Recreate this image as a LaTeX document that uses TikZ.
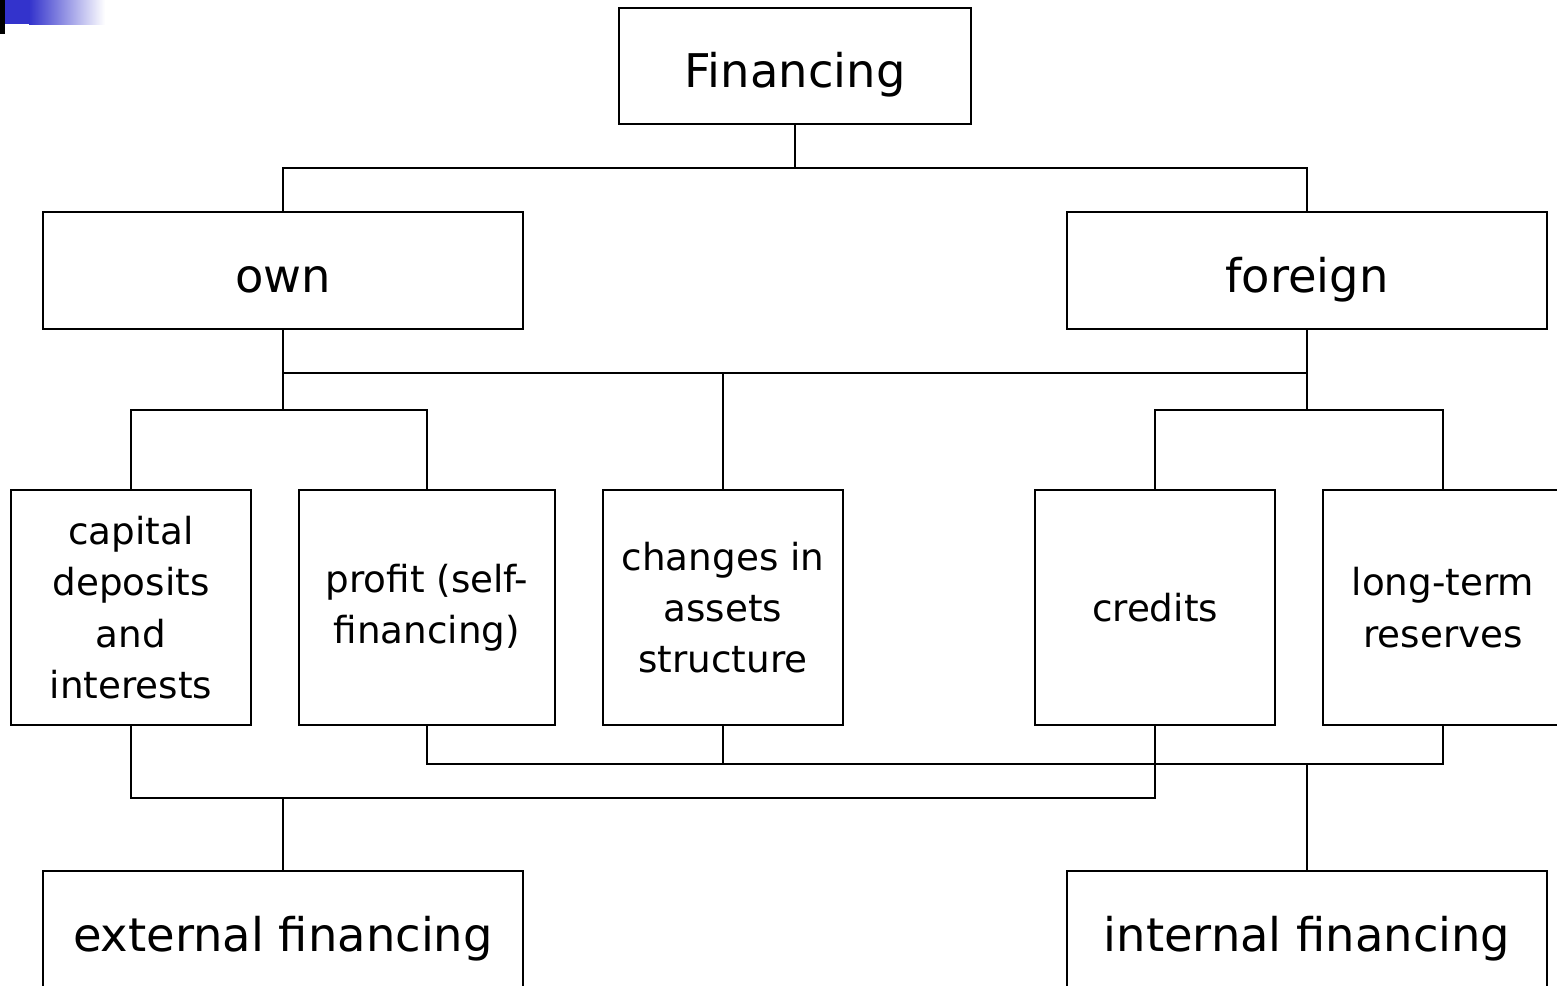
\documentclass[tikz,border=0pt]{standalone}
\usepackage{fontspec}
\setmainfont{DejaVu Sans}
\usepackage{tikz}
\usetikzlibrary{positioning}
\definecolor{slideblue}{RGB}{51,51,204}

\begin{document}
\begin{tikzpicture}[
    x=0.01cm, y=-0.01cm,
    line width=0.6pt,
    bigbox/.style={rectangle, draw, minimum width=4.8cm, minimum height=1.17cm, inner sep=0pt, text height=14pt, text depth=1.5pt, font=\fontsize{13.2}{16}\selectfont},
    smallbox/.style={rectangle, draw, minimum width=2.4cm, minimum height=2.35cm, inner sep=0pt, align=center, font=\fontsize{10.6}{14.6}\selectfont},
    link/.style={draw, line width=0.6pt}
]
\useasboundingbox (0,0) rectangle (1557,986);
\clip (0,0) rectangle (1557,986);

% Slide corner mark
\fill[black] (0,0) rectangle (5,34);
\fill[slideblue] (5,0) rectangle (29,24);
\shade[left color=slideblue, right color=white] (29,0) rectangle (105,25);

% Top node
\node[bigbox, minimum width=3.51cm, minimum height=1.16cm] (fin) at (795,66) {Financing};

% Sources
\node[bigbox] (own) at (283,270.5) {own};
\node[bigbox] (foreign) at (1307,270.5) {foreign};

% Kinds of capital
\node[smallbox] (cap) at (131,607.5) {capital\\deposits\\and\\interests};
\node[smallbox, minimum width=2.56cm] (prof) at (427,607.5) {profit (self-\\financing)};
\node[smallbox] (chg) at (723,607.5) {changes in\\assets\\structure};
\node[smallbox] (cred) at (1155,607.5) {credits};
\node[smallbox] (lt) at (1443,607.5) {long-term\\reserves};

% Results
\node[bigbox] (ext) at (283,929.5) {external financing};
\node[bigbox] (int) at (1307,929.5) {internal financing};

% Bus points
\coordinate (b1) at (795,168);
\coordinate (b2) at (723,373);
\coordinate (b3) at (283,410);
\coordinate (b4) at (1307,410);
\coordinate (b5) at (1307,764);
\coordinate (b6) at (283,798);
\coordinate (b7) at (723,764);

% Financing to own and foreign
\draw[link] (fin.south) -- (b1);
\draw[link] (own.north) |- (b1) -| (foreign.north);

% Own and foreign to the kinds
\draw[link] (own.south) |- (b2) -| (foreign.south);
\draw[link] (chg.north) -- (b2);
\draw[link] (own.south |- b2) -- (b3);
\draw[link] (cap.north) |- (b3) -| (prof.north);
\draw[link] (foreign.south |- b2) -- (b4);
\draw[link] (cred.north) |- (b4) -| (lt.north);

% Kinds to results
\draw[link] (prof.south) |- (b5) -| (lt.south);
\draw[link] (chg.south) -- (b7);
\draw[link] (b5) -- (int.north);
\draw[link] (cap.south) |- (b6) -| (cred.south);
\draw[link] (b6) -- (ext.north);

\end{tikzpicture}
\end{document}
